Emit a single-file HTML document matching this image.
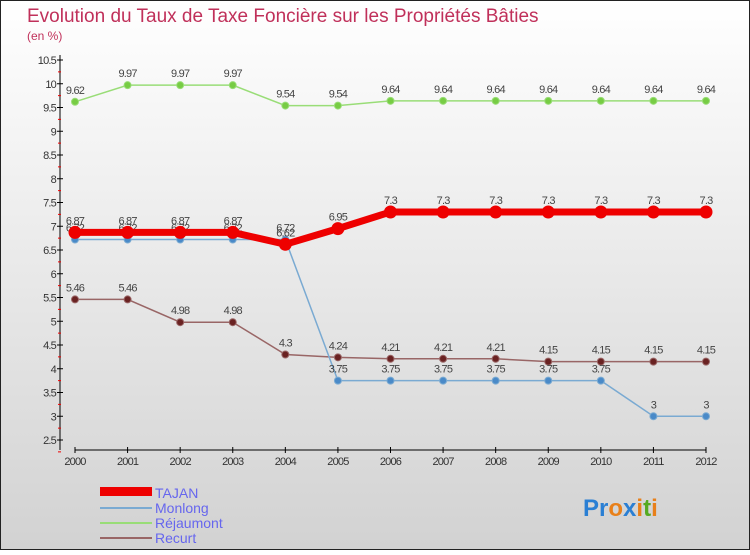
<!DOCTYPE html>
<html><head><meta charset="utf-8"><style>
body{margin:0}
#c{width:750px;height:550px;position:relative;font-family:"Liberation Sans",sans-serif}
</style></head><body>
<div id="c">
<svg id="s" width="750" height="550" xmlns="http://www.w3.org/2000/svg">
<defs><linearGradient id="bg" x1="0" y1="0" x2="0" y2="1"><stop offset="0" stop-color="#ffffff"/><stop offset="1" stop-color="#d2d2d2"/></linearGradient></defs>
<rect x="0.5" y="0.5" width="749" height="549" fill="url(#bg)" stroke="#222"/>
<text x="27" y="22" font-size="19" fill="#c0305a">Evolution du Taux de Taxe Foncière sur les Propriétés Bâties</text>
<text x="27" y="40" font-size="12" fill="#c0305a">(en %)</text>
<g id="axes"></g><g id="series"></g>
<g>
<rect x="100" y="487" width="52" height="9" fill="#ee0000"/>
<text x="155" y="498" font-size="14" fill="#6666ee">TAJAN</text>
<line x1="100" y1="508" x2="152" y2="508" stroke="#7aaad2" stroke-width="2"/>
<text x="155" y="513" font-size="14" fill="#6666ee">Monlong</text>
<line x1="100" y1="523" x2="152" y2="523" stroke="#99dd77" stroke-width="2"/>
<text x="155" y="528" font-size="14" fill="#6666ee">Réjaumont</text>
<line x1="100" y1="538" x2="152" y2="538" stroke="#996666" stroke-width="2"/>
<text x="155" y="543" font-size="14" fill="#6666ee">Recurt</text>
</g>
<g font-size="24" font-weight="bold">
<text x="583" y="516"><tspan fill="#2a7fd4">Pr</tspan><tspan fill="#e8801a">o</tspan><tspan fill="#2a7fd4">x</tspan><tspan fill="#e8801a">i</tspan><tspan fill="#55aa22">t</tspan><tspan fill="#e8801a">i</tspan></text>
</g>
</svg></div>
<script>
const years=[2000,2001,2002,2003,2004,2005,2006,2007,2008,2009,2010,2011,2012];
const tajan=[6.87,6.87,6.87,6.87,6.62,6.95,7.3,7.3,7.3,7.3,7.3,7.3,7.3];
const monlong=[6.72,6.72,6.72,6.72,6.72,3.75,3.75,3.75,3.75,3.75,3.75,3,3];
const rejaumont=[9.62,9.97,9.97,9.97,9.54,9.54,9.64,9.64,9.64,9.64,9.64,9.64,9.64];
const recurt=[5.46,5.46,4.98,4.98,4.3,4.24,4.21,4.21,4.21,4.15,4.15,4.15,4.15];
const yTicks=[2.5,3,3.5,4,4.5,5,5.5,6,6.5,7,7.5,8,8.5,9,9.5,10,10.5];
const NS='http://www.w3.org/2000/svg';
const X=i=>75+i*(706-75)/(years.length-1);
const Y=v=>60+(10.5-v)*47.5;
function mk(t,a,p){const e=document.createElementNS(NS,t);for(const k in a)e.setAttribute(k,a[k]);p.appendChild(e);return e;}
const ax=document.getElementById('axes'),sg=document.getElementById('series');
let yl=mk('line',{x1:60,y1:55,x2:60,y2:450,stroke:'#000'},ax);


let xl=mk('line',{x1:75,y1:450,x2:706,y2:450,stroke:'#000'},ax);


yTicks.forEach(v=>{
 mk('line',{x1:57,y1:Y(v),x2:63,y2:Y(v),stroke:'#000'},ax);
 mk('line',{x1:58,y1:Y(v-0.25),x2:61,y2:Y(v-0.25),stroke:'#e00'},ax);
 const t=mk('text',{x:56,y:Y(v)+4,'font-size':11,fill:'#333','text-anchor':'end','letter-spacing':'-0.8'},ax);t.textContent=v;
 
 
});
years.forEach((y,i)=>{
 mk('line',{x1:X(i),y1:447,x2:X(i),y2:453,stroke:'#000'},ax);
 const t=mk('text',{x:X(i),y:465,'font-size':11,fill:'#333','text-anchor':'middle','letter-spacing':'-0.8'},ax);t.textContent=y;
 
 
});
function series(d,col,dot,w,r,name){
 const g=mk('g',{},sg);
 
 
 mk('polyline',{points:d.map((v,i)=>X(i)+','+Y(v)).join(' '),fill:'none',stroke:col,'stroke-width':w},g);
 d.forEach((v,i)=>{
  const c=mk('circle',{cx:X(i),cy:Y(v),r:r,fill:dot,stroke:col,'stroke-width':1},g);
  
  
  const t=mk('text',{x:X(i),y:Y(v)-8,'font-size':11,fill:'#444','text-anchor':'middle','letter-spacing':'-0.8'},g);t.textContent=v;
  
  
 });
}
series(rejaumont,'#99dd77','#77cc44',1.5,3.5,'rejaumont');
series(recurt,'#996666','#6a2222',1.5,3.5,'recurt');
series(monlong,'#7aaad2','#4a8ac8',1.5,3.5,'monlong');
series(tajan,'#ee0000','#ee0000',7,6,'tajan');
</script>
</body></html>
